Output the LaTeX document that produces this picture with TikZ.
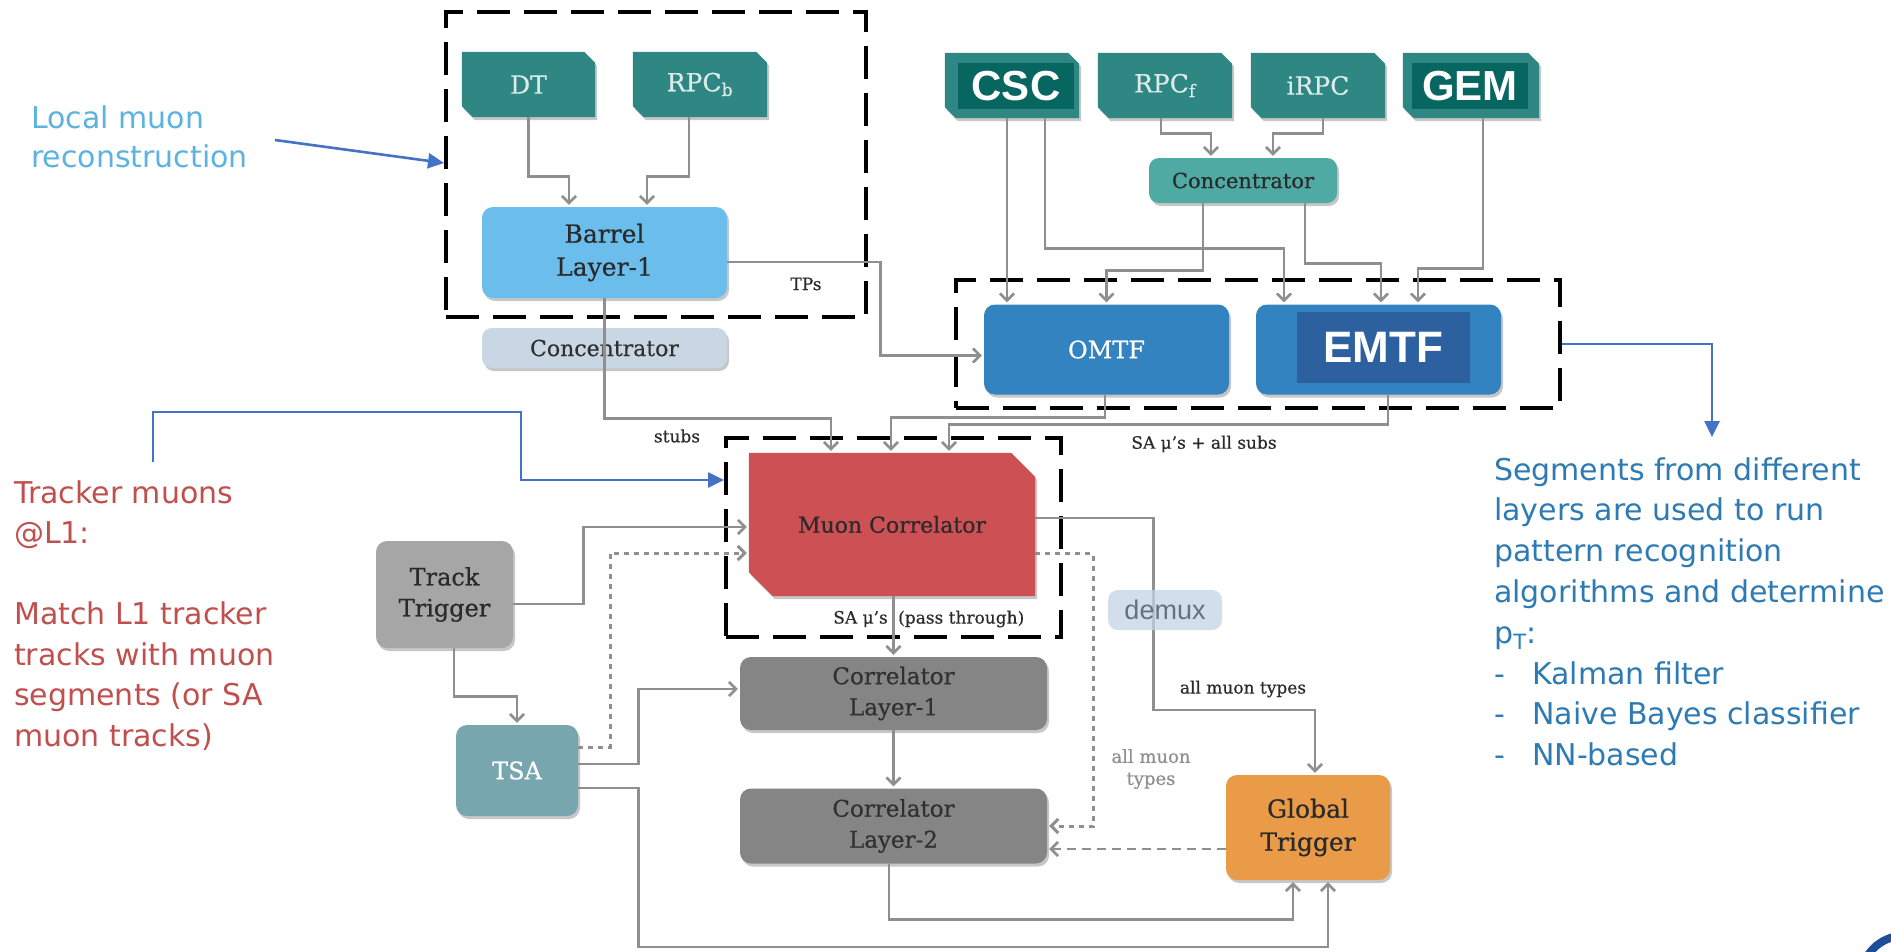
\documentclass[tikz,border=0pt]{standalone}
\usepackage{fontspec}
\setmainfont{DejaVu Serif}
\newfontfamily\twf{DejaVu Serif}[FakeBold=0.5]
\newfontfamily\sidefont{DejaVu Sans}
\newfontfamily\hsans{Liberation Sans}
\usetikzlibrary{arrows.meta,shadows,backgrounds,calc}
\definecolor{tealbox}{HTML}{2F8783}
\definecolor{tealdark}{HTML}{07665F}
\definecolor{tealtxt}{HTML}{DCEBE9}
\definecolor{barrelc}{HTML}{6BBDEC}
\definecolor{concl}{HTML}{C9D7E5}
\definecolor{conctwo}{HTML}{4FAAA3}
\definecolor{tfblue}{HTML}{3283C0}
\definecolor{emtfin}{HTML}{2D609E}
\definecolor{mcred}{HTML}{CC5054}
\definecolor{ttgray}{HTML}{A6A6A6}
\definecolor{tsac}{HTML}{78A6AF}
\definecolor{clgray}{HTML}{858585}
\definecolor{gtor}{HTML}{E99B48}
\definecolor{demuxc}{HTML}{C3D4E6}
\definecolor{demuxt}{HTML}{627283}
\definecolor{lineg}{HTML}{8F8F8F}
\definecolor{arrblue}{HTML}{4472C4}
\definecolor{localc}{HTML}{5CB3E0}
\definecolor{redtxt}{HTML}{C0504D}
\definecolor{segblue}{HTML}{2E7BB4}
\definecolor{txtdark}{HTML}{2A2A2A}
\definecolor{cltxt}{HTML}{303030}
\definecolor{logob}{HTML}{1F4E99}
\newcommand\fsz[2]{\fontsize{#1}{#2}\selectfont}
\newcommand\chamf[3]{\fill[#3, shad] (#1.north west) -- ([xshift=-#2]#1.north east) -- ([yshift=-#2]#1.north east) -- (#1.south east) -- ([xshift=#2]#1.south west) -- ([yshift=#2]#1.south west) -- cycle;}
\tikzset{
  shad/.style={drop shadow={shadow xshift=2pt, shadow yshift=-3pt, opacity=.22, fill=black}},
  blk/.style={rectangle, inner sep=0pt, align=center, text=txtdark},
  rbox/.style={blk, rounded corners=11pt, shad},
  tealnode/.style={blk, minimum width=134pt, minimum height=65pt, text=tealtxt, font=\twf\fsz{25}{30}},
  conn/.style={draw=lineg, line width=2.6pt},
  arr/.style={conn, -{Straight Barb[length=7pt,width=14pt]}, shorten >=2pt},
  dotarr/.style={arr, dash pattern=on 5pt off 5pt, line width=3pt},
  dasharr/.style={arr, dash pattern=on 9pt off 6pt},
  grp/.style={draw=black, line width=4pt, dash pattern=on 33pt off 14pt, inner sep=0pt, rectangle},
  bluearr/.style={draw=arrblue, line width=2.6pt, -{Triangle[length=16pt,width=15pt]}},
  lbl/.style={inner sep=0pt, text=txtdark, font=\twf\fsz{17}{20}},
}
\begin{document}
\begin{tikzpicture}[x=1pt,y=-1pt]
\useasboundingbox (0,0) rectangle (1891,951);

% ---------- chamfered source nodes (names + text)
\node[tealnode, minimum width=133pt] (dt) at (528.5,84.5) {DT};
\node[tealnode] (rpcb) at (700,84.5) {RPC\textsubscript{b}};
\node[tealnode] (csc) at (1012,85.5) {};
\node[tealnode] (rpcf) at (1165,85.5) {RPC\textsubscript{f}};
\node[tealnode] (irpc) at (1318,85.5) {iRPC};
\node[tealnode, minimum width=136pt] (gem) at (1471,85.5) {};
\node[blk, minimum width=286pt, minimum height=143pt, font=\twf\fsz{22}{26}] (mc) at (892,524.5) {Muon Correlator};

\begin{scope}[on background layer]
  \fill[white] (0,0) rectangle (1891,951);
  \chamf{dt}{11}{tealbox}
  \chamf{rpcb}{11}{tealbox}
  \chamf{csc}{11}{tealbox}
  \chamf{rpcf}{11}{tealbox}
  \chamf{irpc}{11}{tealbox}
  \chamf{gem}{11}{tealbox}
  \chamf{mc}{24}{mcred}
\end{scope}

\node[blk, fill=tealdark, minimum width=116pt, minimum height=46pt, text=white, font=\hsans\bfseries\fsz{42}{46}] (cscin) at (1016,86) {CSC};
\node[blk, fill=tealdark, minimum width=116pt, minimum height=46pt, text=white, font=\hsans\bfseries\fsz{42}{46}] (gemin) at (1470,86) {GEM};

% ---------- rounded boxes
\node[rbox, fill=barrelc, minimum width=245pt, minimum height=91pt, font=\twf\fsz{25}{33}] (barrel) at (604.5,252.5) {Barrel\\Layer-1};
\node[rbox, fill=concl, rounded corners=10pt, minimum width=245pt, minimum height=40pt, font=\twf\fsz{22}{26}, text=cltxt] (concl) at (604.5,348) {Concentrator};
\node[rbox, fill=conctwo, rounded corners=10pt, minimum width=188pt, minimum height=45pt, font=\twf\fsz{21}{25}] (conc2) at (1243,180.5) {Concentrator};
\node[rbox, fill=tfblue, minimum width=245pt, minimum height=90pt, text=white, font=\twf\fsz{24}{28}] (omtf) at (1106.5,349.5) {OMTF};
\node[rbox, fill=tfblue, minimum width=245pt, minimum height=90pt] (emtf) at (1378.5,349.5) {};
\node[blk, fill=emtfin, minimum width=173pt, minimum height=71pt, text=white, font=\hsans\bfseries\fsz{44}{48}] (emtfin) at (1383.5,347.5) {EMTF};
\node[rbox, fill=ttgray, minimum width=137pt, minimum height=107pt, font=\twf\fsz{24}{31}] (tt) at (444.5,594.5) {Track\\Trigger};
\node[rbox, fill=tsac, minimum width=122pt, minimum height=91pt, text=white, font=\twf\fsz{24}{28}] (tsa) at (517,770.5) {TSA};
\node[rbox, fill=clgray, minimum width=307pt, minimum height=73pt, font=\twf\fsz{23}{31}, text=cltxt] (cl1) at (893.5,693.5) {Correlator\\Layer-1};
\node[rbox, fill=clgray, minimum width=307pt, minimum height=75pt, font=\twf\fsz{23}{31}, text=cltxt] (cl2) at (893.5,826) {Correlator\\Layer-2};
\node[rbox, fill=gtor, minimum width=164pt, minimum height=105pt, font=\twf\fsz{25}{33}] (gt) at (1308,827.5) {Global\\Trigger};

% ---------- group boxes
\node[grp, minimum width=420pt, minimum height=305pt] (grp1) at (656,164.5) {};
\node[grp, minimum width=604pt, minimum height=128pt] (grp2) at (1258,344) {};
\node[grp, minimum width=335pt, minimum height=199pt] (grp3) at (893.5,537.5) {};

% ---------- connectors
\draw[arr] (dt.south) -- ++(0,59) -| ([xshift=-35.5]barrel.north);
\draw[arr] ([xshift=-11]rpcb.south) -- ++(0,59) -| ([xshift=42.5]barrel.north);
\draw[arr] ([yshift=-9.5]barrel.east) -- ++(153,0) |- ([yshift=-6]omtf.west);
\draw[arr] (barrel.south) -- ++(0,120) -| ([xshift=-61]mc.north);
\draw[arr] ([xshift=-1.5]omtf.south) -- ++(0,23) -| ([xshift=-1]mc.north);
\draw[arr] ([xshift=9.5]emtf.south) -- ++(0,30) -| ([xshift=57]mc.north);
\draw[arr] ([xshift=-5]csc.south) -- ([xshift=-99.5]omtf.north);
\draw[arr] ([xshift=33]csc.south) -- ++(0,130) -| ([xshift=-94.5]emtf.north);
\draw[arr] ([xshift=-4]rpcf.south) -- ++(0,15) -| ([xshift=-32]conc2.north);
\draw[arr] ([xshift=5]irpc.south) -- ++(0,15) -| ([xshift=30]conc2.north);
\draw[arr] ([xshift=-40]conc2.south) -- ++(0,67) -| (omtf.north);
\draw[arr] ([xshift=62]conc2.south) -- ++(0,60) -| ([xshift=2.5]emtf.north);
\draw[arr] ([xshift=12]gem.south) -- ++(0,150) -| ([xshift=39.5]emtf.north);
\draw[arr] ([yshift=-9.5]tt.east) -- ++(70,0) |- ([yshift=-2.5]mc.west);
\draw[dotarr] ([yshift=23.5]tsa.east) -- ++(32,0) |- ([yshift=-28.5]mc.west);
\draw[arr] ([yshift=6.5]tsa.east) -- ++(60,0) |- ([yshift=4.5]cl1.west);
\draw[arr] ([yshift=-17.5]tsa.east) -- ++(60,0) -- ++(0,159) -| ([xshift=20]gt.south);
\draw[arr] ([xshift=9.5]tt.south) -- ++(0,48) -| (tsa.north);
\draw[arr] (mc.south -| cl1.north) -- (cl1.north);
\draw[arr] (cl1.south) -- (cl2.north);
\draw[arr] ([xshift=-4.5]cl2.south) -- ++(0,56) -| ([xshift=-15]gt.south);
\draw[arr] ([yshift=6.5]mc.east) -- ++(118,0) -- ++(0,192) -| ([xshift=7]gt.north);
\draw[dotarr] ([yshift=-29]mc.east) -- ++(58,0) |- (cl2.east);
\draw[dasharr] ([yshift=-21.5]gt.west) -- ([yshift=-23]cl2.east);

% demux (translucent, over the line)
\node[blk, fill=demuxc, fill opacity=.75, text opacity=1, rounded corners=10pt, minimum width=114pt, minimum height=40pt, text=demuxt, font=\hsans\fsz{27}{30}] (demux) at (1165,610) {demux};

% ---------- labels
\node[lbl] (tps) at (806,284) {TPs};
\node[lbl] (stubs) at (677,436) {stubs};
\node[lbl] (saall) at (1204,444) {SA μ’s + all subs};
\node[lbl, anchor=east] (sa1) at (888,619) {SA μ’s};
\node[lbl, anchor=west] (sa2) at (898,619) {(pass through)};
\node[lbl] (allmu) at (1243,689) {all muon types};
\node[lbl, align=center, text=lineg, font=\twf\fsz{18}{22}] (allmu2) at (1151,769) {all muon\\types};

% ---------- side texts
\node[anchor=north west, inner sep=0pt, align=left, text=localc, font=\sidefont\fsz{30}{39}] (localtxt) at (31,106) {Local muon\\reconstruction};
\node[anchor=north west, inner sep=0pt, align=left, text=redtxt, font=\sidefont\fsz{30}{40.5}] (trktxt) at (14,480) {Tracker muons\\@L1:\\[40.5pt]Match L1 tracker\\tracks with muon\\segments (or SA\\muon tracks)};
\node[anchor=north west, inner sep=0pt, align=left, text=segblue, font=\sidefont\fsz{30}{40.8}] (segtxt) at (1494,457) {Segments from different\\layers are used to run\\pattern recognition\\algorithms and determine\\p\textsubscript{T}:\\\makebox[38pt][l]{-}Kalman filter\\\makebox[38pt][l]{-}Naive Bayes classifier\\\makebox[38pt][l]{-}NN-based};

% ---------- blue annotation arrows
\coordinate (lmstart) at (275,140);
\coordinate (trkstart) at (153,462);
\coordinate (segtip) at (1712,437);
\draw[bluearr] (lmstart) -- ([yshift=1.5]grp1.west);
\draw[bluearr] (trkstart) -- (153,412) -- (521,412) |- ([yshift=57.5]grp3.west);
\draw[bluearr] (grp2.east) -| (segtip);

% logo fragment
\draw[logob, line width=8pt] (1866,958) .. controls (1874,945) and (1884,939) .. (1897,936);
\end{tikzpicture}
\end{document}
